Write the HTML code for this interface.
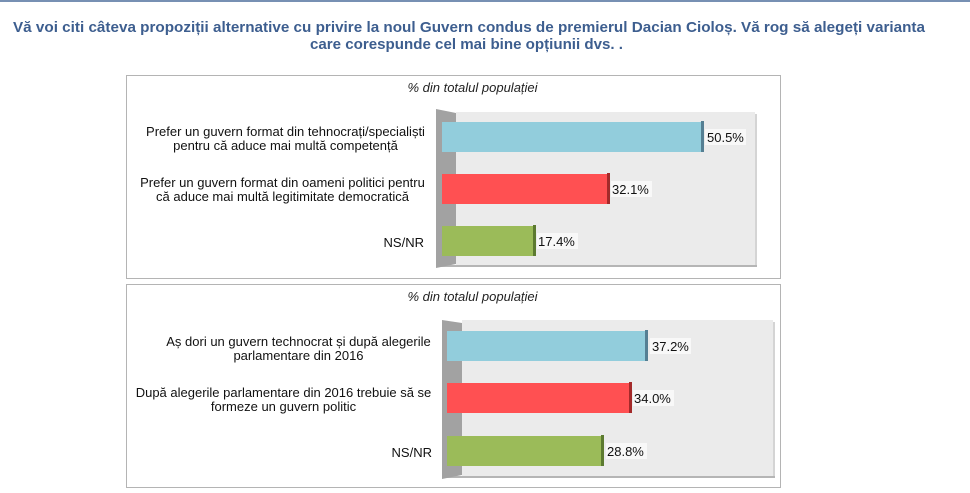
<!DOCTYPE html>
<html>
<head>
<meta charset="utf-8">
<style>
  html,body{margin:0;padding:0;background:#fff;}
  body{width:970px;height:493px;overflow:hidden;}
  svg{display:block;}
  text{font-family:"Liberation Sans", Arial, sans-serif;}
</style>
</head>
<body>
<svg width="970" height="493" viewBox="0 0 970 493" xmlns="http://www.w3.org/2000/svg">
  <!-- top border line -->
  <rect x="0" y="0" width="970" height="2" fill="#7790b3"/>

  <!-- title -->
  <text x="469" y="32" font-size="15" font-weight="bold" fill="#3d5e8f" text-anchor="middle" textLength="912" lengthAdjust="spacingAndGlyphs">Vă voi citi câteva propoziții alternative cu privire la noul Guvern condus de premierul Dacian Cioloș. Vă rog să alegeți varianta</text>
  <text x="466.5" y="49" font-size="15" font-weight="bold" fill="#3d5e8f" text-anchor="middle" textLength="313" lengthAdjust="spacingAndGlyphs">care corespunde cel mai bine opțiunii dvs. .</text>

  <!-- ================= CHART 1 ================= -->
  <rect x="126.5" y="75.5" width="654" height="203" fill="#fff" stroke="#b4b4b4" stroke-width="1"/>
  <text x="472.5" y="92" font-size="13" font-style="italic" fill="#222" text-anchor="middle">% din totalul populației</text>

  <!-- floor/back plane -->
  <rect x="456" y="112" width="299" height="154" fill="#ebebeb"/>
  <rect x="755" y="114" width="2" height="153" fill="#d4d4d4"/>
  <rect x="438" y="265" width="319" height="2" fill="#b5b5b5"/>
  <!-- wall -->
  <polygon points="436,109 456,113 456,264 436,268" fill="#a2a2a2"/>

  <!-- bars -->
  <rect x="442" y="122" width="259" height="30" fill="#92cddc"/>
  <rect x="701" y="121" width="3" height="31" fill="#557f93"/>
  <rect x="442" y="174" width="165" height="30" fill="#ff5052"/>
  <rect x="607" y="173" width="3" height="31" fill="#a32a2a"/>
  <rect x="442" y="226" width="91" height="30" fill="#9bbb59"/>
  <rect x="533" y="225" width="3" height="31" fill="#5c7a30"/>

  <!-- value labels -->
  <rect x="705" y="129" width="41" height="16" fill="#f8f8f8"/>
  <text x="707" y="142" font-size="13" fill="#111">50.5%</text>
  <rect x="611" y="181" width="41" height="16" fill="#f8f8f8"/>
  <text x="612" y="194" font-size="13" fill="#111">32.1%</text>
  <rect x="537" y="233" width="41" height="16" fill="#f8f8f8"/>
  <text x="538" y="246" font-size="13" fill="#111">17.4%</text>

  <!-- category labels -->
  <text x="285.5" y="136" font-size="13" fill="#111" text-anchor="middle">Prefer un guvern format din tehnocrați/specialiști</text>
  <text x="285.5" y="150" font-size="13" fill="#111" text-anchor="middle">pentru că aduce mai multă competență</text>
  <text x="282.5" y="187" font-size="13" fill="#111" text-anchor="middle">Prefer un guvern format din oameni politici pentru</text>
  <text x="282.5" y="201" font-size="13" fill="#111" text-anchor="middle">că aduce mai multă legitimitate democratică</text>
  <text x="424" y="247" font-size="13" fill="#111" text-anchor="end">NS/NR</text>

  <!-- ================= CHART 2 ================= -->
  <rect x="126.5" y="284.5" width="654" height="203" fill="#fff" stroke="#b4b4b4" stroke-width="1"/>
  <text x="472.5" y="301" font-size="13" font-style="italic" fill="#222" text-anchor="middle">% din totalul populației</text>

  <rect x="462" y="320" width="311" height="157" fill="#ebebeb"/>
  <rect x="773" y="322" width="2" height="156" fill="#d4d4d4"/>
  <rect x="444" y="476" width="331" height="2" fill="#b5b5b5"/>
  <polygon points="442,320 462,323 462,475 442,479" fill="#a2a2a2"/>

  <rect x="447" y="331" width="198" height="30" fill="#92cddc"/>
  <rect x="645" y="330" width="3" height="31" fill="#557f93"/>
  <rect x="447" y="383" width="182" height="30" fill="#ff5052"/>
  <rect x="629" y="382" width="3" height="31" fill="#a32a2a"/>
  <rect x="447" y="436" width="154" height="30" fill="#9bbb59"/>
  <rect x="601" y="435" width="3" height="31" fill="#5c7a30"/>

  <rect x="650" y="338" width="41" height="16" fill="#f8f8f8"/>
  <text x="652" y="351" font-size="13" fill="#111">37.2%</text>
  <rect x="633" y="390" width="41" height="16" fill="#f8f8f8"/>
  <text x="634" y="403" font-size="13" fill="#111">34.0%</text>
  <rect x="606" y="443" width="41" height="16" fill="#f8f8f8"/>
  <text x="607" y="456" font-size="13" fill="#111">28.8%</text>

  <text x="298.5" y="346" font-size="13" fill="#111" text-anchor="middle">Aș dori un guvern technocrat și după alegerile</text>
  <text x="298.5" y="360" font-size="13" fill="#111" text-anchor="middle">parlamentare din 2016</text>
  <text x="283.5" y="397" font-size="13" fill="#111" text-anchor="middle">După alegerile parlamentare din 2016 trebuie să se</text>
  <text x="283.5" y="411" font-size="13" fill="#111" text-anchor="middle">formeze un guvern politic</text>
  <text x="432" y="457" font-size="13" fill="#111" text-anchor="end">NS/NR</text>
</svg>
</body>
</html>
